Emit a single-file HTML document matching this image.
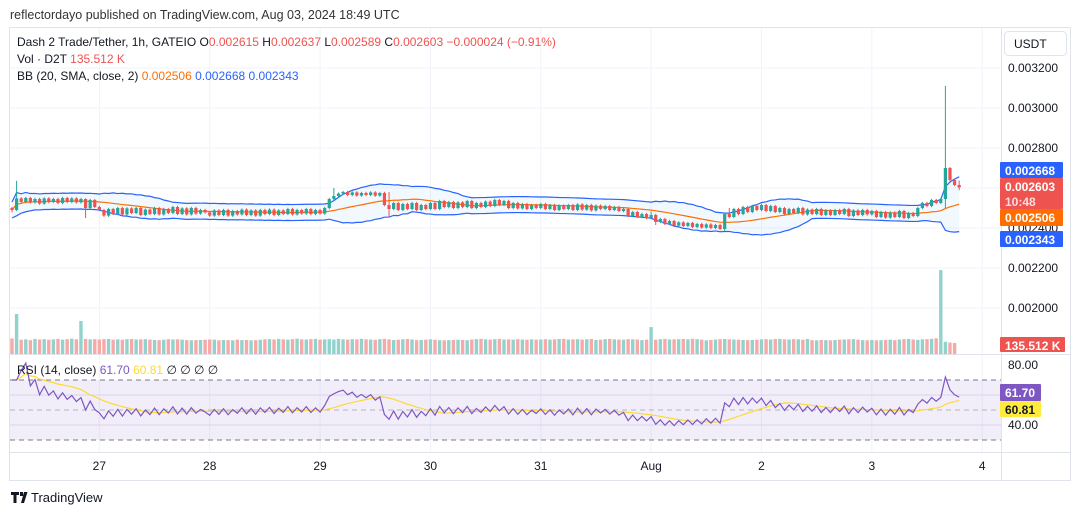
<!DOCTYPE html>
<html><head><meta charset="utf-8">
<style>
body{margin:0;background:#fff;width:1080px;height:515px;overflow:hidden;font-family:"Liberation Sans",sans-serif}
svg{display:block}
text{font-family:"Liberation Sans","DejaVu Sans",sans-serif}
</style></head>
<body>
<svg id="c" width="1080" height="515" viewBox="0 0 1080 515">
<text x="10" y="19" font-size="12.5" fill="#333">reflectordayo published on TradingView.com, Aug 03, 2024 18:49 UTC</text>
<rect x="9.5" y="27.5" width="1061" height="453" fill="#fff" stroke="#e0e3eb"/>
<g id="grid"></g>
<rect x="10" y="380" width="991" height="60" fill="rgba(126,87,194,0.1)"/>
<g id="bb"></g>
<g id="vol"></g>
<g id="candles"></g>
<g id="rsi"></g>
<line x1="1001.5" y1="28" x2="1001.5" y2="480" stroke="#e0e3eb"/>
<line x1="10" y1="354.5" x2="1070" y2="354.5" stroke="#e0e3eb"/>
<line x1="10" y1="452.5" x2="1070" y2="452.5" stroke="#e0e3eb"/>
<g id="axes" font-size="12" fill="#131722"></g>
<rect x="1004.5" y="31.5" width="62" height="24" rx="4" fill="#fff" stroke="#e0e3eb"/>
<text x="1014" y="48" font-size="12" fill="#131722">USDT</text>
<g font-size="12">
<text x="17" y="46" fill="#131722">Dash 2 Trade/Tether, 1h, GATEIO  O<tspan fill="#ef5350">0.002615</tspan>  H<tspan fill="#ef5350">0.002637</tspan>  L<tspan fill="#ef5350">0.002589</tspan>  C<tspan fill="#ef5350">0.002603</tspan>  <tspan fill="#ef5350">−0.000024 (−0.91%)</tspan></text>
<text x="17" y="63" fill="#131722">Vol · D2T  <tspan fill="#ef5350">135.512 K</tspan></text>
<text x="17" y="80" fill="#131722">BB (20, SMA, close, 2)  <tspan fill="#ff6d00">0.002506</tspan>  <tspan fill="#2962ff">0.002668</tspan>  <tspan fill="#2962ff">0.002343</tspan></text>
<text x="17" y="374" fill="#131722">RSI (14, close)  <tspan fill="#7e57c2">61.70</tspan>  <tspan fill="#fdd835">60.81</tspan>  ∅  ∅  ∅  ∅</text>
</g>
<g>
<path d="M11 492h8v3h-2.5v8h-3v-8H11z M20 492h3v4h-3z M24 492h3.5l-3.5 11h-3z" fill="#131722"/>
<text x="31" y="502" font-size="13" fill="#131722">TradingView</text>
</g>
</svg>
<script>
// prices in millionths of USDT (2490 = 0.002490), hourly candles from Jul 26 05:00
const closes=[2490,2548,2530,2550,2528,2545,2522,2548,2530,2545,2525,2550,2530,2548,2528,2545,2500,2540,2505,
2490,2462,2495,2470,2500,2468,2498,2475,2500,2465,2492,2470,2500,2468,2495,2475,2505,2470,2498,2468,2500,2472,2490,2478,
2462,2488,2465,2490,2462,2485,2468,2492,2465,2488,2462,2490,2470,2492,2465,2488,2470,2495,2468,2490,2472,2495,2470,2490,
2472,2500,2545,2560,2572,2580,2565,2578,2562,2575,2565,2578,2562,2575,2515,2495,2525,2490,2520,2495,2525,2490,2515,2495,
2525,2495,2535,2505,2530,2500,2528,2505,2535,2500,2525,2505,2532,2510,2540,2515,2535,2500,2525,2498,2520,2495,2515,2500,
2520,2495,2515,2490,2512,2495,2515,2490,2518,2492,2515,2488,2512,2495,2510,2490,2505,2485,2495,2460,2480,2455,2470,2450,
2465,2430,2445,2420,2435,2412,2428,2410,2425,2405,2420,2402,2418,2400,2415,2395,2470,2455,2495,2470,2505,2480,2510,2490,
2515,2485,2510,2480,2500,2470,2495,2475,2500,2468,2492,2470,2495,2465,2488,2465,2490,2470,2495,2460,2488,2465,2490,2468,
2485,2455,2480,2452,2478,2455,2485,2450,2475,2460,2500,2525,2510,2540,2525,2545,2700,2640,2615,2603];
const firstOpen=2500;
const wickHighs={1:2636,16:2548,70:2600,82:2580,139:2482,155:2440,156:2500,203:3110,204:2705,206:2637};
const wickLows={0:2478,16:2450,82:2455,140:2415,155:2385,203:2500,206:2589};
const volumes=[190,490,175,180,170,185,178,182,175,180,185,176,182,188,180,405,185,180,182,
178,182,185,176,180,175,182,184,178,180,182,176,172,170,175,182,178,180,176,170,168,170,172,175,
178,176,168,172,170,168,176,170,172,168,170,175,180,182,178,185,180,176,182,188,180,178,182,185,
176,180,182,178,185,180,176,182,180,186,180,178,175,182,186,180,172,176,180,184,178,170,172,176,
180,175,170,168,170,172,175,172,170,178,182,186,180,176,182,185,178,180,176,182,178,175,180,176,
178,182,176,180,184,185,178,180,182,176,180,184,172,176,182,185,180,178,176,182,180,178,170,176,
330,176,182,185,178,180,182,184,180,186,182,176,168,172,178,182,184,180,178,176,172,170,172,175,
180,182,178,184,186,180,178,182,180,176,184,170,168,172,170,168,172,176,178,180,182,176,170,168,
172,168,170,172,176,170,178,182,185,178,174,180,182,186,192,1030,150,140,135.512];
const dayLabels=["27","28","29","30","31","Aug","2","3","4"];
const priceTicks=[3200,3000,2800,2200,2000];
const rsiTicks=[80,40];

const NS="http://www.w3.org/2000/svg";
function mk(tag,attrs,parent){const e=document.createElementNS(NS,tag);for(const k in attrs)e.setAttribute(k,attrs[k]);parent.appendChild(e);return e;}
const xOf=i=>12+i*4.598;
const yP=p=>108+(3000-p)*0.2;
const yR=v=>365+(80-v)*1.5;
const yV=v=>354-v*0.0815;
const G='#26a69a',R='#ef5350';
const grid=document.getElementById('grid');
priceTicks.concat([2600,2400]).forEach(p=>{
  const l=mk('line',{x1:10,x2:1001,y1:yP(p),y2:yP(p),stroke:'#f0f3fa'},grid);
  
  
});
dayLabels.forEach((d,k)=>{
  const x=xOf(19+24*k);
  const l=mk('line',{x1:x,x2:x,y1:28,y2:452,stroke:'#f0f3fa'},grid);
  
  
});
[395,425].forEach(y=>{const l=mk('line',{x1:10,x2:1001,y1:y,y2:y,stroke:'#e6e3f0'},grid);
  
  });
// Bollinger
const N=closes.length;
const basis=[],upper=[],lower=[];
for(let i=0;i<N;i++){const s=Math.max(0,i-19);const w=closes.slice(s,i+1);const m=w.reduce((a,b)=>a+b,0)/w.length;
  const sd=Math.sqrt(w.reduce((a,b)=>a+(b-m)*(b-m),0)/w.length);basis.push(m);upper.push(m+2*Math.max(sd,20));lower.push(m-2*Math.max(sd,20));}
const bb=document.getElementById('bb');
let fill='M'+upper.map((v,i)=>xOf(i)+','+yP(v)).join('L')+'L'+lower.map((v,i)=>xOf(i)+','+yP(v)).reverse().join('L')+'Z';
const bf=mk('path',{d:fill,fill:'rgba(33,150,243,0.06)'},bb);


[[upper,'#2962ff','bb-upper'],[lower,'#2962ff','bb-lower'],[basis,'#ff6d00','bb-basis']].forEach(([a,c,n])=>{
  const p=mk('polyline',{points:a.map((v,i)=>xOf(i)+','+yP(v)).join(' '),fill:'none',stroke:c,'stroke-width':1.2},bb);
  
  
});
// candles & volume
const cg=document.getElementById('candles'),vg=document.getElementById('vol');
for(let i=0;i<N;i++){
  const o=i?closes[i-1]:firstOpen,c=closes[i];const up=c>=o;const col=up?G:R;
  const hi=wickHighs[i]!==undefined?wickHighs[i]:Math.max(o,c)+6;
  const lo=wickLows[i]!==undefined?wickLows[i]:Math.min(o,c)-6;
  const x=xOf(i);
  const w=mk('line',{x1:x,x2:x,y1:yP(hi),y2:yP(lo),stroke:col,'stroke-width':1},cg);
  
  
  const top=yP(Math.max(o,c)),bh=Math.max(1,yP(Math.min(o,c))-top);
  const b=mk('rect',{x:x-1.6,y:top,width:3.2,height:bh,fill:col},cg);
  
  
  const vy=yV(volumes[i]);
  const v=mk('rect',{x:x-1.7,y:vy,width:3.4,height:354-vy,fill:up?'#92d2cc':'#f7a9a7'},vg);
  
  
}
// RSI
const rsi=[];let ag=0,al=0;
for(let i=0;i<N;i++){const ch=i?closes[i]-closes[i-1]:0;const g=Math.max(ch,0),l=Math.max(-ch,0);
  if(i<14){ag=(ag*i+g)/(i+1);al=(al*i+l)/(i+1);}else{ag=(ag*13+g)/14;al=(al*13+l)/14;}
  rsi.push(al===0?70:100-100/(1+ag/al));}
const rsiMa=rsi.map((v,i)=>{const w=rsi.slice(Math.max(0,i-13),i+1);return w.reduce((a,b)=>a+b,0)/w.length;});
const rg=document.getElementById('rsi');
[[380,'rsi-upper-level'],[410,'rsi-middle-level'],[440,'rsi-lower-level']].forEach(([y,n])=>{
  const l=mk('line',{x1:10,x2:1001,y1:y,y2:y,stroke:y==410?'#b2b5be':'#787b86','stroke-dasharray':'5,4'},rg);
  
  
});
const rm=mk('polyline',{points:rsiMa.map((v,i)=>xOf(i)+','+yR(v)).join(' '),fill:'none',stroke:'#fdd835','stroke-width':1.2},rg);


const rl=mk('polyline',{points:rsi.map((v,i)=>xOf(i)+','+yR(v)).join(' '),fill:'none',stroke:'#7e57c2','stroke-width':1.2},rg);


// axes
const ax=document.getElementById('axes');
priceTicks.forEach(p=>{const t=mk('text',{x:1008,y:yP(p)+4},ax);t.textContent=(p/1e6).toFixed(6);
  
  });
const t24=mk('text',{x:1008,y:yP(2400)+4},ax);t24.textContent='0.002400';


rsiTicks.forEach(v=>{const t=mk('text',{x:1008,y:yR(v)+4},ax);t.textContent=v.toFixed(2);
  
  });
dayLabels.forEach((d,k)=>{const t=mk('text',{x:xOf(19+24*k),y:470,'text-anchor':'middle'},ax);t.textContent=d;
  
  });
function badge(y,h,bg,lines,fg,n,wd){
  const r=mk('rect',{x:1000,y:y,width:wd||63,height:h,fill:bg,rx:1},ax);
  
  
  lines.forEach((s,j)=>{const t=mk('text',{x:1005,y:y+13+j*15,fill:j?'rgba(255,255,255,0.8)':fg,'font-weight':'bold'},ax);t.textContent=s;
    
    });
}
badge(162,16,'#2962ff',['0.002668'],'#fff','bb-upper-badge');
badge(178,31,'#ef5350',['0.002603','10:48'],'#fff','last-price-badge');
badge(209,17,'#ff6d00',['0.002506'],'#fff','bb-basis-badge');
badge(231,16,'#2962ff',['0.002343'],'#fff','bb-lower-badge');
badge(337,15,'#ef5350',['135.512 K'],'#fff','volume-badge',65);
badge(384,17,'#7e57c2',['61.70'],'#fff','rsi-badge',41);
badge(401,16,'#ffeb3b',['60.81'],'#131722','rsi-ma-badge',41);
</script>
</body></html>
